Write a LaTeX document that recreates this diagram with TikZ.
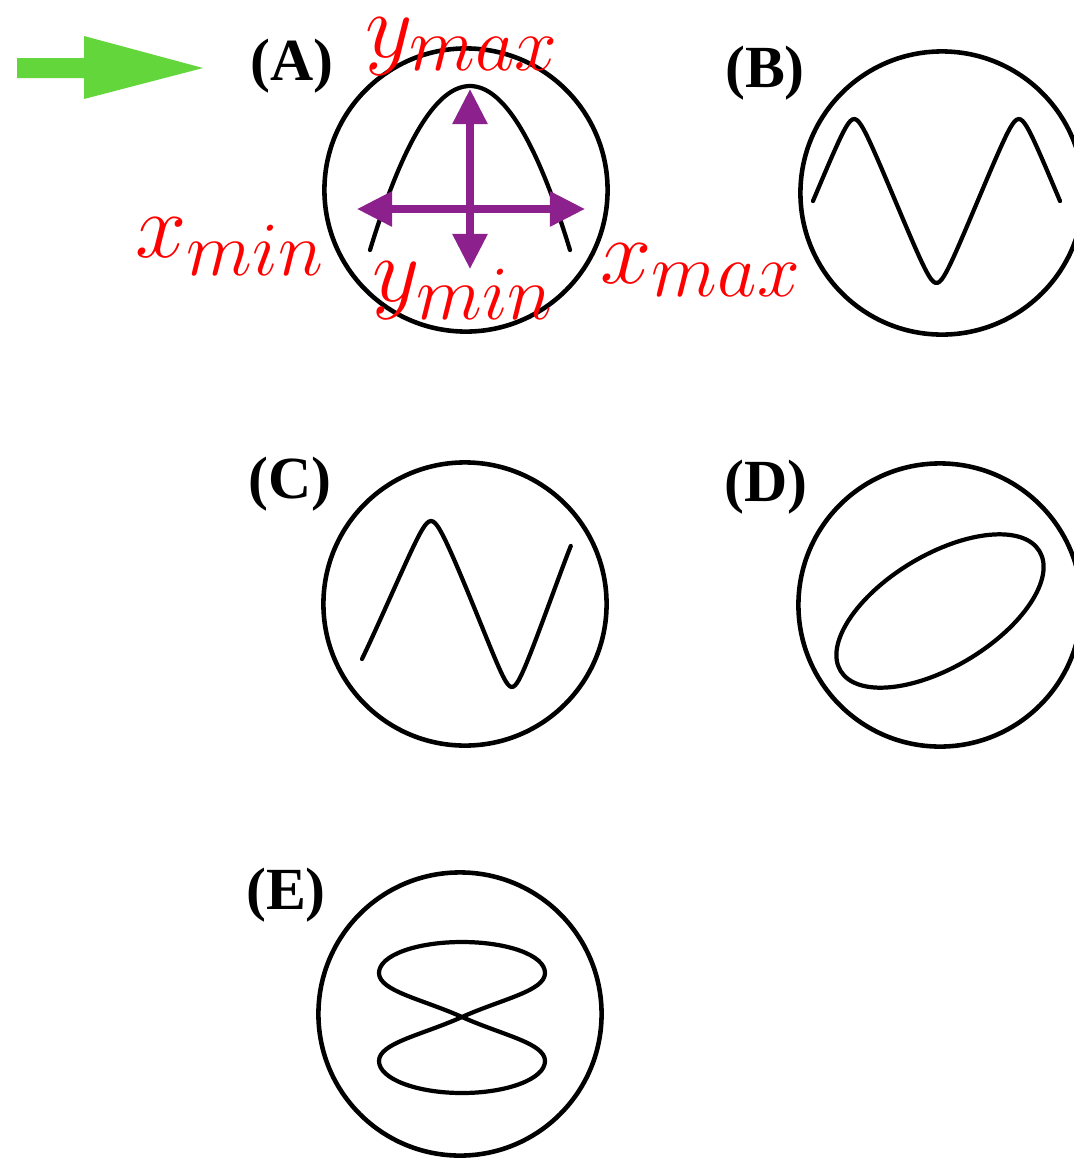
\RequirePackage{fix-cm}
\documentclass[tikz,border=0pt]{standalone}
\usepackage{amsmath, amssymb}
\usepackage{xcolor}
\usepackage{fontspec}
\usepackage{tikz}
\usetikzlibrary{arrows.meta, positioning}
\newfontfamily\panelfont{Liberation Serif}
\DeclareMathSizes{26.2}{26.2}{21.8}{17.3}
\definecolor{hintgreen}{RGB}{98,214,58}
\definecolor{axispurple}{RGB}{140,32,140}
\tikzset{
    dial/.style={circle, draw=black, line width=1.3pt, minimum size=2.83cm, inner sep=0pt},
    panel/.style={font=\panelfont\bfseries\fontsize{17}{20}\selectfont, inner sep=0pt},
    trace/.style={draw=black, line width=1.2pt, line join=round, line cap=round},
    extent/.style={draw=axispurple, line width=2pt, -{Triangle[length=10pt, width=9.6pt]}},
    bound/.style={text=red, font=\fontsize{26.2}{31}\selectfont, inner sep=0pt, anchor=base west}
}

\begin{document}
\begin{tikzpicture}[x=0.01cm, y=-0.01cm]
    \clip (0,0) rectangle (1074,1160);

    \node (dialA) [dial] at (466,190) {};
    \node (dialB) [dial] at (942,193) {};
    \node (dialC) [dial] at (465,604) {};
    \node (dialD) [dial] at (940,605) {};
    \node (dialE) [dial] at (460,1014) {};

    \node (labA) [panel] at (292,66) {(A)};
    \node (labB) [panel] at (765,73) {(B)};
    \node (labC) [panel] at (290,484) {(C)};
    \node (labD) [panel] at (766,487) {(D)};
    \node (labE) [panel] at (286,895) {(E)};

    \fill[hintgreen] (17,58) -- (84,58) -- (84,36) -- (203,68) -- (84,99) -- (84,78) -- (17,78) -- cycle;

    \draw[trace, shift={(dialA.center)}] plot[domain=-100:100, samples=50, smooth] ({4+\x}, {-104+0.0164*\x*\x});
    \draw[trace, shift={(dialB.center)}] plot[domain=0:540, samples=120, smooth] ({-129+0.4574*\x}, {8-82*asin(0.95*sin(\x))/71.8});
    \draw[trace, shift={(dialC.center)}] plot[domain=-51:414, samples=110, smooth] ({-103+0.449*(\x+51)+7*sin((\x+51)*0.387)}, {-83*asin(0.95*sin(\x))/71.8});
    \coordinate (ovalD) at (940,611);
    \draw[trace, rotate around={31:(ovalD)}] (ovalD) ellipse [x radius=1.16cm, y radius=0.56cm];
    \coordinate (crossE) at (462,1017);
    \draw[trace, shift={(crossE)}] (0,0) .. controls (40,-18) and (83,-26) .. (83,-44)
        .. controls (83,-62) and (45,-75) .. (0,-75) .. controls (-45,-75) and (-83,-62) .. (-83,-44)
        .. controls (-83,-26) and (-40,-18) .. (0,0) .. controls (40,18) and (83,26) .. (83,44)
        .. controls (83,62) and (45,76) .. (0,76) .. controls (-45,76) and (-83,62) .. (-83,44)
        .. controls (-83,26) and (-40,18) .. (0,0);

    \coordinate (origA) at (470,209);
    \coordinate (topA) at (470,89);
    \coordinate (botA) at (470,269);
    \coordinate (leftA) at (357,209);
    \coordinate (rightA) at (585,209);
    \draw[extent] (origA) -- (topA);
    \draw[extent] (origA) -- (botA);
    \draw[extent] (origA) -- (leftA);
    \draw[extent] (origA) -- (rightA);

    \node (ymax) [bound] at (365,57) {$y_{max}$};
    \node (xmin) [bound] at (135,257) {$x_{min}$};
    \node (ymin) [bound] at (372,301) {$y_{min}$};
    \node (xmax) [bound] at (600,283) {$x_{max}$};
\end{tikzpicture}
\end{document}
